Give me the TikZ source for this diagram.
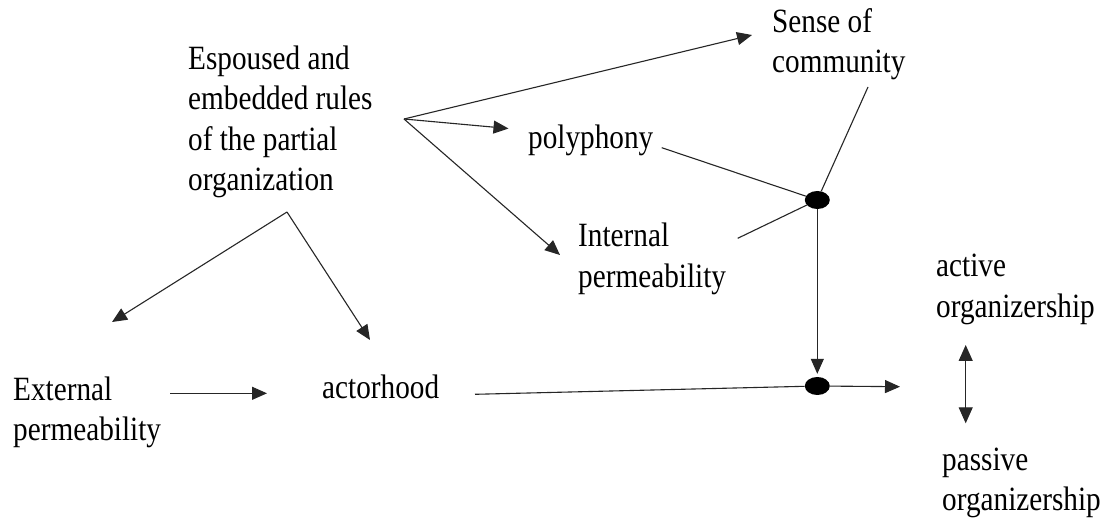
\documentclass[tikz,border=0pt]{standalone}
\usepackage{fontspec}
\setmainfont[FakeStretch=0.86]{Liberation Serif}
\usetikzlibrary{arrows.meta,shapes.geometric}
\begin{document}
\begin{tikzpicture}[x=1pt,y=-1pt,
  lbl/.style={anchor=north west,inner sep=0pt,align=left,font=\fontsize{34}{40.5}\selectfont},
  conn/.style={line width=1.1pt,draw=black!85},
  arr/.style={conn,-{Triangle[length=15pt,width=13pt]}},
  dblarr/.style={conn,{Triangle[length=16pt,width=14pt]}-{Triangle[length=16pt,width=14pt]}},
  junction/.style={ellipse,fill=black,inner sep=0pt,minimum width=25pt,minimum height=18pt}]
\useasboundingbox[fill=white] (0,0) rectangle (1103,518);

% labels (north = first baseline - strut height)
\node[lbl] (rules)   at (188,40.9)  {\strut Espoused and\\embedded rules\\of the partial\\organization};
\node[lbl] (sense)   at (772,3.9)   {\strut Sense of\\community};
\node[lbl] (poly)    at (528,120)   {\strut polyphony};
\node[lbl] (intp)    at (578,218.3) {\strut Internal\\permeability};
\node[lbl] (active)  at (936,248.3) {\strut active\\organizership};
\node[lbl] (extp)    at (13,371.6)  {\strut External\\permeability};
\node[lbl] (actor)   at (322,370)   {\strut actorhood};
\node[lbl] (passive) at (942,441.6) {\strut passive\\organizership};

% junction dots
\node[junction] (dotA) at (817.3,200) {};
\node[junction] (dotB) at (817.3,386) {};

% branch points and connector ends
\coordinate (src)    at (404,119);
\coordinate (apex)   at (287,212);
\coordinate (tSense) at (752,35);
\coordinate (tPoly)  at (508.5,128.5);
\coordinate (tInt)   at (560,255);
\coordinate (tExt)   at (112,322);
\coordinate (tAct)   at (370,340);
\coordinate (sExt)   at (170,393.3);
\coordinate (tExtAct) at (267,393.3);
\coordinate (sPoly)  at (661.7,147.7);
\coordinate (sInt)   at (737.7,238.3);
\coordinate (sComm)  at (868,87);
\coordinate (sActor) at (475,394.3);
\coordinate (tOut)   at (900,386.7);
\coordinate (dTop)   at (965.7,345);
\coordinate (dBot)   at (965.7,423.3);

% rules fan out
\draw[arr] (src) -- (tSense);
\draw[arr] (src) -- (tPoly);
\draw[arr] (src) -- (tInt);
\draw[arr] (apex) -- (tExt);
\draw[arr] (apex) -- (tAct);
\draw[arr] (sExt) -- (tExtAct);

% converging lines
\draw[conn] (sPoly) -- (dotA);
\draw[conn] (sInt) -- (dotA);
\draw[conn] (sComm) -- (dotA);
\draw[arr, shorten >=3pt] (dotA) -- (dotB);
\draw[conn] (sActor) -- (dotB);
\draw[arr] (dotB) -- (tOut);

% active / passive
\draw[dblarr] (dTop) -- (dBot);
\end{tikzpicture}
\end{document}
